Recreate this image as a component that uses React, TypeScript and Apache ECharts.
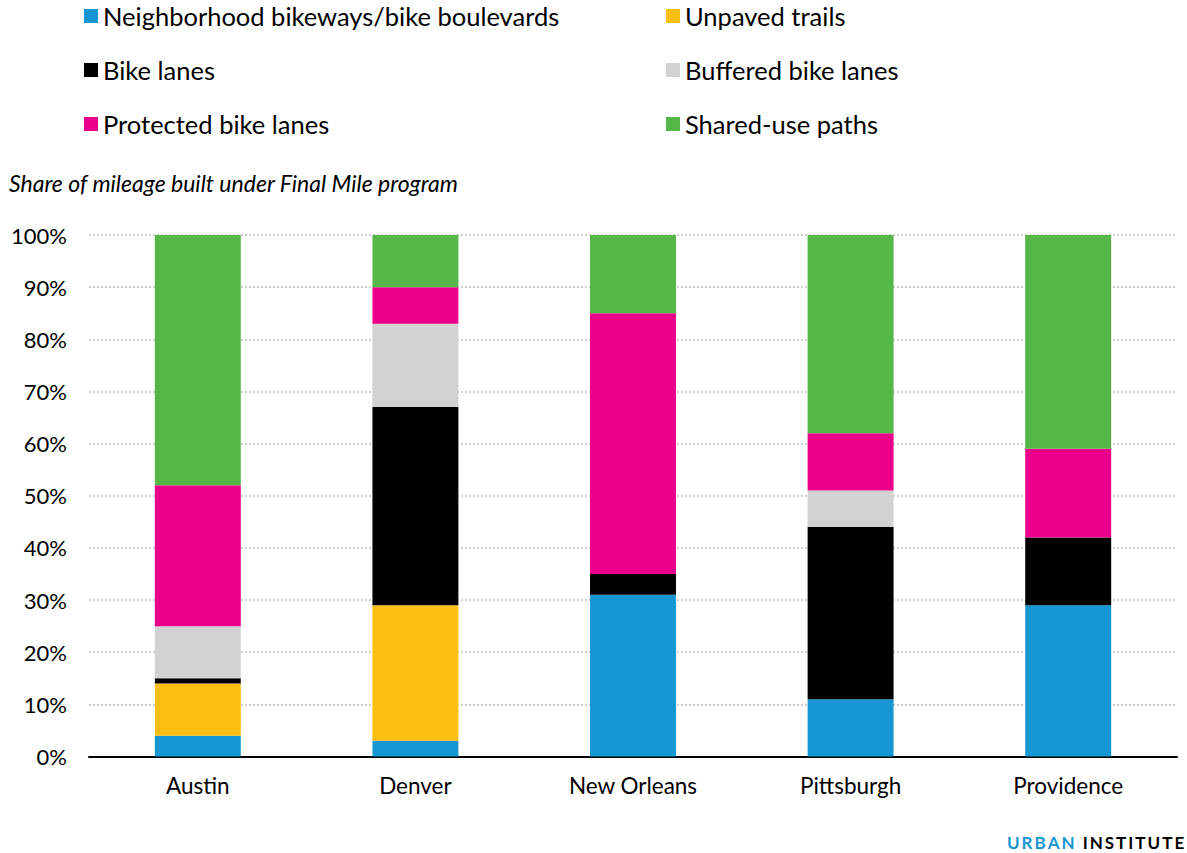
import React, { useEffect, useRef } from "react";
import * as echarts from "echarts";

const categories = ["Austin", "Denver", "New Orleans", "Pittsburgh", "Providence"];
const seriesNames = [
  "Neighborhood bikeways/bike boulevards",
  "Unpaved trails",
  "Bike lanes",
  "Buffered bike lanes",
  "Protected bike lanes",
  "Shared-use paths",
];
const neighborhood = [4, 3, 31, 11, 29];
const unpaved = [10, 26, 0, 0, 0];
const bikeLanes = [1, 38, 4, 33, 13];
const buffered = [10, 16, 0, 7, 0];
const protectedLanes = [27, 7, 50, 11, 17];
const sharedUse = [48, 10, 15, 38, 41];
const seriesValues = [neighborhood, unpaved, bikeLanes, buffered, protectedLanes, sharedUse];
const colors = ["#1696d2", "#fdbf11", "#000000", "#d2d2d2", "#ec008b", "#55b748"];
const yTicks = [0, 10, 20, 30, 40, 50, 60, 70, 80, 90, 100];

const FONT = "Lato, 'Open Sans', sans-serif";

const logoWord = (word: string, style: string) =>
  word
    .split("")
    .map((ch) => `{${style}|${ch}}`)
    .join("");

export default function App() {
  const ref = useRef<HTMLDivElement>(null);
  useEffect(() => {
    document.body.style.margin = "0";
    const chart = echarts.init(ref.current!, null, { renderer: "svg" });
    const legendCommon = {
      orient: "vertical",
      top: 3,
      padding: 0,
      itemWidth: 14,
      itemHeight: 14,
      itemGap: 28,
      icon: "rect",
      selectedMode: false,
      textStyle: { fontFamily: FONT, fontSize: 25.5, lineHeight: 25, color: "#000" },
    };
    const logoRich = {
      a: { fontFamily: FONT, fontWeight: "bold", fontSize: 17, fill: "#1696d2", padding: [0, 1, 0, 1] },
      b: { fontFamily: FONT, fontWeight: "bold", fontSize: 17, fill: "#000", padding: [0, 1, 0, 1] },
      s: { fontFamily: FONT, fontSize: 17, width: 6 },
    };
    chart.setOption({
      animation: false,
      textStyle: { fontFamily: FONT },
      legend: [
        { ...legendCommon, left: 84, data: [seriesNames[0], seriesNames[2], seriesNames[4]] },
        { ...legendCommon, left: 666, data: [seriesNames[1], seriesNames[3], seriesNames[5]] },
      ],
      grid: { left: 89, right: 10, top: 235, bottom: 96.5, containLabel: false },
      xAxis: {
        type: "category",
        data: categories,
        axisLine: { lineStyle: { color: "#000", width: 2 } },
        axisTick: { show: false },
        axisLabel: { fontFamily: FONT, fontSize: 22.5, color: "#000", margin: 17 },
      },
      yAxis: {
        type: "value",
        min: 0,
        max: 100,
        interval: 10,
        axisLine: { show: false },
        axisTick: { show: false },
        axisLabel: {
          fontFamily: FONT,
          fontSize: 22,
          color: "#000",
          margin: 22,
          verticalAlign: "middle",
          padding: [0, 0, 3, 0],
          formatter: (v: number) => (yTicks.includes(v) ? `${v}%` : ""),
        },
        splitLine: { lineStyle: { color: "#cfcfcf", width: 2, type: [2, 2] } },
      },
      series: seriesNames.map((name, i) => ({
        name,
        type: "bar",
        stack: "total",
        barWidth: "39.5%",
        data: seriesValues[i],
        itemStyle: { color: colors[i] },
        emphasis: { disabled: true },
      })),
      graphic: [
        {
          type: "text",
          left: 9,
          top: 171,
          style: {
            text: "Share of mileage built under Final Mile program",
            fontFamily: FONT,
            fontStyle: "italic",
            fontSize: 23,
            fill: "#000",
          },
        },
        {
          type: "text",
          x: 1006,
          y: 834,
          style: {
            text: logoWord("URBAN", "a") + "{s| }" + logoWord("INSTITUTE", "b"),
            rich: logoRich,
          },
        },
      ],
    });
    return () => chart.dispose();
  }, []);
  return <div ref={ref} style={{ width: 1187, height: 853 }} />;
}
